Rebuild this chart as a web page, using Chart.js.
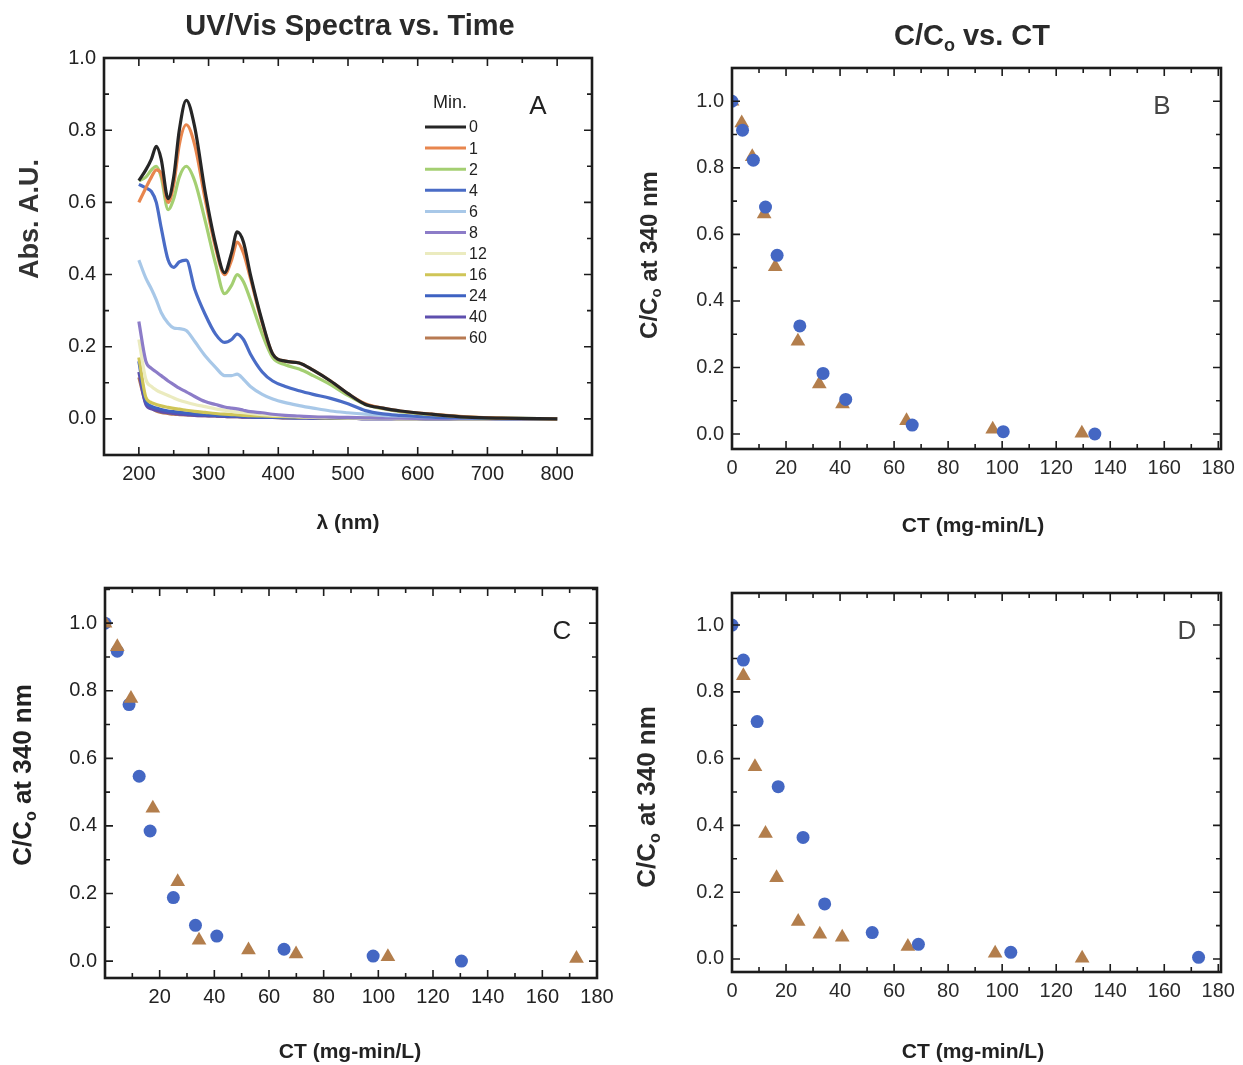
<!DOCTYPE html>
<html>
<head>
<meta charset="utf-8">
<script src="https://cdn.jsdelivr.net/npm/chart.js@4.4.1/dist/chart.umd.min.js"></script>
<style>
  html, body { margin: 0; padding: 0; background: #fff; }
  #wrap { position: relative; width: 1243px; height: 1065px; }
  canvas { position: absolute; }
</style>
</head>
<body>
<div id="wrap">
  <canvas id="chartA" width="621" height="545" style="left:0;top:0"></canvas>
  <canvas id="chartB" width="622" height="545" style="left:621px;top:0"></canvas>
  <canvas id="chartC" width="621" height="520" style="left:0;top:545px"></canvas>
  <canvas id="chartD" width="622" height="520" style="left:621px;top:545px"></canvas>
</div>
<script>
const FONT = '"Liberation Sans", Arial, sans-serif';

// Panel A: UV/Vis spectra (absorbance vs wavelength) for each reaction time
const wavelengths = [200, 210, 218, 225, 232, 242, 250, 258, 268, 280, 295, 310, 323, 333, 341, 350, 360, 377, 392, 410, 430, 450, 475, 500, 525, 550, 575, 620, 670, 720, 800];
const minutes = ['0', '1', '2', '4', '6', '8', '12', '16', '24', '40', '60'];
const abs0  = [0.66, 0.69, 0.72, 0.755, 0.72, 0.61, 0.67, 0.80, 0.883, 0.81, 0.63, 0.485, 0.405, 0.46, 0.518, 0.49, 0.40, 0.27, 0.18, 0.16, 0.155, 0.135, 0.105, 0.07, 0.04, 0.03, 0.022, 0.013, 0.005, 0.002, 0.0];
const abs1  = [0.60, 0.64, 0.67, 0.69, 0.68, 0.60, 0.65, 0.76, 0.815, 0.76, 0.61, 0.475, 0.40, 0.44, 0.49, 0.46, 0.39, 0.265, 0.18, 0.16, 0.155, 0.135, 0.105, 0.07, 0.042, 0.03, 0.022, 0.013, 0.006, 0.002, 0.0];
const abs2  = [0.66, 0.67, 0.69, 0.70, 0.67, 0.58, 0.61, 0.67, 0.70, 0.66, 0.55, 0.43, 0.347, 0.37, 0.40, 0.38, 0.33, 0.235, 0.17, 0.15, 0.138, 0.12, 0.095, 0.065, 0.04, 0.028, 0.02, 0.012, 0.005, 0.002, 0.0];
const abs4  = [0.65, 0.64, 0.63, 0.60, 0.53, 0.44, 0.42, 0.435, 0.44, 0.36, 0.29, 0.235, 0.212, 0.22, 0.235, 0.22, 0.18, 0.13, 0.105, 0.09, 0.078, 0.068, 0.057, 0.042, 0.023, 0.014, 0.01, 0.005, 0.003, 0.001, 0.0];
const abs6  = [0.44, 0.39, 0.36, 0.33, 0.295, 0.265, 0.252, 0.25, 0.245, 0.215, 0.175, 0.143, 0.12, 0.12, 0.124, 0.11, 0.09, 0.068, 0.055, 0.045, 0.037, 0.03, 0.022, 0.017, 0.013, 0.01, 0.008, 0.005, 0.003, 0.001, 0.0];
const abs8  = [0.27, 0.16, 0.14, 0.13, 0.12, 0.105, 0.095, 0.085, 0.075, 0.062, 0.048, 0.04, 0.033, 0.03, 0.028, 0.024, 0.02, 0.017, 0.013, 0.01, 0.008, 0.006, 0.005, 0.004, 0.003, 0.002, 0.002, 0.001, 0.001, 0.0, 0.0];
const abs12 = [0.22, 0.11, 0.09, 0.08, 0.073, 0.065, 0.058, 0.052, 0.046, 0.04, 0.034, 0.028, 0.024, 0.021, 0.019, 0.017, 0.015, 0.012, 0.01, 0.008, 0.006, 0.005, 0.004, 0.003, 0.002, 0.002, 0.001, 0.001, 0.0, 0.0, 0.0];
const abs16 = [0.17, 0.06, 0.045, 0.04, 0.036, 0.032, 0.029, 0.027, 0.024, 0.021, 0.018, 0.015, 0.013, 0.012, 0.011, 0.01, 0.009, 0.008, 0.007, 0.006, 0.005, 0.004, 0.003, 0.003, 0.002, 0.002, 0.001, 0.001, 0.0, 0.0, 0.0];
const abs24 = [0.16, 0.05, 0.035, 0.03, 0.026, 0.022, 0.02, 0.018, 0.016, 0.014, 0.012, 0.01, 0.009, 0.008, 0.008, 0.007, 0.006, 0.005, 0.005, 0.004, 0.003, 0.003, 0.002, 0.002, 0.001, 0.001, 0.001, 0.0, 0.0, 0.0, 0.0];
const abs40 = [0.13, 0.04, 0.028, 0.024, 0.02, 0.017, 0.015, 0.013, 0.012, 0.01, 0.009, 0.008, 0.007, 0.006, 0.006, 0.005, 0.005, 0.004, 0.004, 0.003, 0.003, 0.002, 0.002, 0.002, 0.001, 0.001, 0.001, 0.0, 0.0, 0.0, 0.0];
const abs60 = [0.115, 0.045, 0.03, 0.022, 0.018, 0.015, 0.013, 0.012, 0.011, 0.01, 0.009, 0.008, 0.007, 0.006, 0.006, 0.005, 0.005, 0.004, 0.004, 0.003, 0.003, 0.002, 0.002, 0.002, 0.001, 0.001, 0.001, 0.0, 0.0, 0.0, 0.0];
const spectra = [abs0, abs1, abs2, abs4, abs6, abs8, abs12, abs16, abs24, abs40, abs60];
const spectraColors = ['#262626', '#e8864e', '#a4cf72', '#4a6cc6', '#a8c8e8', '#8c7cc8', '#ebebbf', '#cfc557', '#3e62c2', '#5e4fae', '#b87a52'];
const lambdaTicks = [200, 300, 400, 500, 600, 700, 800];
const absTicks = [0, 0.2, 0.4, 0.6, 0.8, 1.0];

// Panels B, C, D: C/Co at 340 nm vs CT
const ctTicks = [0, 20, 40, 60, 80, 100, 120, 140, 160, 180];
const ratioTicks = [0, 0.2, 0.4, 0.6, 0.8, 1.0];

const ctB_circle = [0, 3.9, 7.9, 12.4, 16.7, 25.1, 33.7, 42.1, 66.7, 100.4, 134.3];
const cB_circle  = [1.0, 0.913, 0.823, 0.682, 0.537, 0.325, 0.182, 0.104, 0.027, 0.007, 0.0];
const ctB_tri    = [0, 3.6, 7.5, 11.9, 16.0, 24.4, 32.3, 40.9, 64.6, 96.5, 129.5];
const cB_tri     = [1.0, 0.935, 0.833, 0.661, 0.503, 0.279, 0.150, 0.090, 0.040, 0.014, 0.002];

const ctC_circle = [0, 4.5, 8.8, 12.5, 16.5, 25.0, 33.1, 40.9, 65.5, 98.1, 130.4];
const cC_circle  = [1.0, 0.917, 0.759, 0.547, 0.385, 0.188, 0.106, 0.074, 0.035, 0.015, 0.0];
const ctC_tri    = [0, 4.5, 9.5, 17.5, 26.6, 34.4, 52.5, 69.9, 103.5, 172.5];
const cC_tri     = [1.0, 0.93, 0.777, 0.452, 0.235, 0.062, 0.033, 0.021, 0.013, 0.008];

const ctD_circle = [0, 4.2, 9.3, 17.1, 26.3, 34.3, 51.9, 69.0, 103.2, 172.7];
const cD_circle  = [1.0, 0.895, 0.711, 0.516, 0.364, 0.165, 0.079, 0.044, 0.020, 0.005];
const ctD_tri    = [4.2, 8.5, 12.4, 16.5, 24.5, 32.5, 40.8, 65.1, 97.4, 129.6];
const cD_tri     = [0.848, 0.576, 0.376, 0.243, 0.112, 0.074, 0.065, 0.037, 0.017, 0.002];

const BLUE = '#4467c3';
const BROWN = '#b37e4c';

const pairs = (xs, ys) => xs.map((x, i) => ({ x: x, y: ys[i] }));

// box with inward ticks on all four sides, like the original plots
const framePlugin = {
  id: 'frame',
  afterDraw(chart, args, opts) {
    const { ctx, chartArea: a } = chart;
    const x = chart.scales.x, y = chart.scales.y;
    ctx.save();
    ctx.strokeStyle = '#1c1c1c';
    ctx.lineWidth = 1.6;
    const marks = (scale, minor, major, horiz) => {
      const i0 = Math.ceil(scale.min / minor - 1e-6);
      const i1 = Math.floor(scale.max / minor + 1e-6);
      for (let i = i0; i <= i1; i++) {
        const v = i * minor;
        const r = v / major;
        const len = Math.abs(r - Math.round(r)) < 1e-6 ? 8 : 5;
        const p = scale.getPixelForValue(v);
        ctx.beginPath();
        if (horiz) {
          ctx.moveTo(p, a.bottom); ctx.lineTo(p, a.bottom - len);
          ctx.moveTo(p, a.top); ctx.lineTo(p, a.top + len);
        } else {
          ctx.moveTo(a.left, p); ctx.lineTo(a.left + len, p);
          ctx.moveTo(a.right, p); ctx.lineTo(a.right - len, p);
        }
        ctx.stroke();
      }
    };
    marks(x, opts.xMinor, opts.xMajor, true);
    marks(y, opts.yMinor, opts.yMajor, false);
    ctx.lineWidth = 2.6;
    ctx.strokeRect(a.left, a.top, a.right - a.left, a.bottom - a.top);
    ctx.restore();
  }
};

// titles, axis labels and panel letters (supports a subscript segment)
const textPlugin = {
  id: 'texts',
  afterDraw(chart, args, opts) {
    const ctx = chart.ctx;
    (opts.items || []).forEach(it => {
      const segs = Array.isArray(it.text) ? it.text : [{ t: it.text }];
      const fontFor = s => (it.weight || 'normal') + ' ' + (s.sub ? Math.round(it.size * 0.62) : it.size) + 'px ' + FONT;
      ctx.save();
      ctx.translate(it.x, it.y);
      if (it.rot) ctx.rotate(it.rot);
      ctx.fillStyle = it.color || '#222';
      ctx.textBaseline = 'middle';
      ctx.textAlign = 'left';
      let total = 0;
      segs.forEach(s => { ctx.font = fontFor(s); total += ctx.measureText(s.t).width; });
      let cx = -total / 2;
      segs.forEach(s => {
        ctx.font = fontFor(s);
        ctx.fillText(s.t, cx, s.sub ? it.size * 0.3 : 0);
        cx += ctx.measureText(s.t).width;
      });
      ctx.restore();
    });
  }
};

// "Min." legend inside panel A
const minLegendPlugin = {
  id: 'minLegend',
  afterDraw(chart, args, opts) {
    if (!opts.show) return;
    const ctx = chart.ctx;
    ctx.save();
    ctx.fillStyle = '#222';
    ctx.textBaseline = 'middle';
    ctx.textAlign = 'center';
    ctx.font = '18px ' + FONT;
    ctx.fillText(opts.title, opts.x + 25, opts.y - 24);
    ctx.textAlign = 'left';
    ctx.font = '16px ' + FONT;
    chart.data.datasets.forEach((ds, i) => {
      const yy = opts.y + i * opts.gap;
      ctx.strokeStyle = ds.borderColor;
      ctx.lineWidth = 3;
      ctx.beginPath();
      ctx.moveTo(opts.x, yy);
      ctx.lineTo(opts.x + 41, yy);
      ctx.stroke();
      ctx.fillText(ds.label, opts.x + 44, yy + 1);
    });
    ctx.restore();
  }
};

function makeScales(p) {
  return {
    x: {
      type: 'linear', min: p.xMin, max: p.xMax,
      grid: { display: false, drawTicks: false },
      border: { display: false },
      afterBuildTicks: s => { s.ticks = p.xTicks.map(v => ({ value: v })); },
      afterFit: s => { s.height = p.bottomH; },
      ticks: {
        autoSkip: false, maxRotation: 0, padding: 7, color: p.tickColor,
        font: { size: 20, family: FONT },
        callback: v => (p.hideX0 && v === 0) ? '' : String(v)
      }
    },
    y: {
      type: 'linear', min: p.yMin, max: p.yMax,
      grid: { display: false, drawTicks: false },
      border: { display: false },
      afterBuildTicks: s => { s.ticks = p.yTicks.map(v => ({ value: v })); },
      afterFit: s => { s.width = p.leftW; },
      ticks: {
        autoSkip: false, padding: 8, color: p.tickColor,
        font: { size: 20, family: FONT },
        callback: v => Number(v).toFixed(1)
      }
    }
  };
}

const ratioLabel = [{ t: 'C/C' }, { t: 'o', sub: true }, { t: ' at 340 nm' }];
const ctLabel = 'CT (mg-min/L)';
const UP = -Math.PI / 2;

function scatterChart(id, circles, triangles, trianglesOnTop, scaleOpts, pad, texts) {
  const circleSet = {
    label: 'circles', data: circles, pointStyle: 'circle', pointRadius: 6.5,
    backgroundColor: BLUE, borderColor: BLUE, borderWidth: 0, showLine: false
  };
  const triSet = {
    label: 'triangles', data: triangles, pointStyle: 'triangle', pointRadius: 8.5,
    backgroundColor: BROWN, borderColor: BROWN, borderWidth: 0, showLine: false
  };
  return new Chart(document.getElementById(id), {
    type: 'scatter',
    data: { datasets: trianglesOnTop ? [triSet, circleSet] : [circleSet, triSet] },
    options: {
      responsive: false, animation: false, devicePixelRatio: 1,
      layout: { padding: pad },
      scales: makeScales(scaleOpts),
      plugins: {
        legend: { display: false }, tooltip: { enabled: false },
        frame: { xMajor: 20, xMinor: 10, yMajor: 0.2, yMinor: 0.1 },
        texts: { items: texts }
      }
    },
    plugins: [framePlugin, textPlugin]
  });
}

// Panel A
new Chart(document.getElementById('chartA'), {
  type: 'line',
  data: {
    datasets: spectra.map((vals, i) => ({
      label: minutes[i],
      data: pairs(wavelengths, vals),
      borderColor: spectraColors[i],
      borderWidth: 3.2,
      pointRadius: 0,
      cubicInterpolationMode: 'monotone'
    }))
  },
  options: {
    responsive: false, animation: false, devicePixelRatio: 1,
    layout: { padding: { top: 58, right: 29, left: 0, bottom: 0 } },
    scales: makeScales({
      xMin: 150, xMax: 850, xTicks: lambdaTicks,
      yMin: -0.1, yMax: 1.0, yTicks: absTicks,
      leftW: 104, bottomH: 90, tickColor: '#222'
    }),
    plugins: {
      legend: { display: false }, tooltip: { enabled: false },
      frame: { xMajor: 100, xMinor: 50, yMajor: 0.2, yMinor: 0.1 },
      minLegend: { show: true, title: 'Min.', x: 425, y: 127, gap: 21.1 },
      texts: { items: [
        { text: 'UV/Vis Spectra vs. Time', x: 350, y: 27, size: 29, weight: 'bold', color: '#2a2a2a' },
        { text: 'Abs. A.U.', x: 31, y: 219, size: 27, weight: 'bold', rot: UP, color: '#333' },
        { text: 'λ (nm)', x: 348, y: 523, size: 21, weight: 'bold', color: '#222' },
        { text: 'A', x: 538, y: 107, size: 26, color: '#222' }
      ] }
    }
  },
  plugins: [framePlugin, textPlugin, minLegendPlugin]
});

// Panel B
scatterChart('chartB', pairs(ctB_circle, cB_circle), pairs(ctB_tri, cB_tri), false,
  { xMin: 0, xMax: 181, xTicks: ctTicks, yMin: -0.045, yMax: 1.1, yTicks: ratioTicks,
    leftW: 111, bottomH: 96, tickColor: '#2a2a2a' },
  { top: 68, right: 22, left: 0, bottom: 0 },
  [
    { text: [{ t: 'C/C' }, { t: 'o', sub: true }, { t: ' vs. CT' }], x: 351, y: 37, size: 29, weight: 'bold', color: '#2a2a2a' },
    { text: ratioLabel, x: 29, y: 255, size: 24, weight: 'bold', rot: UP, color: '#2a2a2a' },
    { text: ctLabel, x: 352, y: 526, size: 21, weight: 'bold', color: '#222' },
    { text: 'B', x: 541, y: 107, size: 26, color: '#444' }
  ]);

// Panel C
scatterChart('chartC', pairs(ctC_circle, cC_circle), pairs(ctC_tri, cC_tri), true,
  { xMin: 0, xMax: 180, xTicks: ctTicks, yMin: -0.05, yMax: 1.104, yTicks: ratioTicks,
    leftW: 105, bottomH: 87, tickColor: '#222', hideX0: true },
  { top: 43, right: 24, left: 0, bottom: 0 },
  [
    { text: ratioLabel, x: 24, y: 230, size: 26, weight: 'bold', rot: UP, color: '#222' },
    { text: ctLabel, x: 350, y: 507, size: 21, weight: 'bold', color: '#222' },
    { text: 'C', x: 562, y: 87, size: 26, color: '#222' }
  ]);

// Panel D
scatterChart('chartD', pairs(ctD_circle, cD_circle), pairs(ctD_tri, cD_tri), false,
  { xMin: 0, xMax: 181, xTicks: ctTicks, yMin: -0.039, yMax: 1.096, yTicks: ratioTicks,
    leftW: 111, bottomH: 93, tickColor: '#2a2a2a' },
  { top: 48, right: 22, left: 0, bottom: 0 },
  [
    { text: ratioLabel, x: 27, y: 252, size: 26, weight: 'bold', rot: UP, color: '#2a2a2a' },
    { text: ctLabel, x: 352, y: 507, size: 21, weight: 'bold', color: '#222' },
    { text: 'D', x: 566, y: 87, size: 26, color: '#444' }
  ]);
</script>
</body>
</html>
